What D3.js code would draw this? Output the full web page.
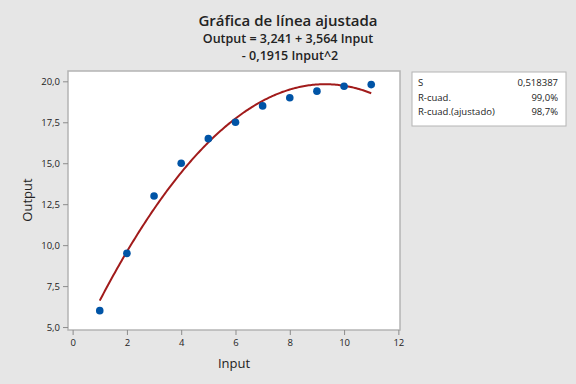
<!DOCTYPE html>
<html><head><meta charset="utf-8">
<script src="https://cdn.jsdelivr.net/npm/d3@7"></script>
<style>body{margin:0;background:#e6e6e6;} svg{display:block;font-family:"Open Sans","Noto Sans",sans-serif;}</style>
</head><body>
<script>
const inputs = [1,2,3,4,5,6,7,8,9,10,11];
const outputs = [6.0,9.5,13.0,15.0,16.5,17.5,18.5,19.0,19.4,19.7,19.8];
const coef = [3.241, 3.564, -0.1915];
const xTicks = [0,2,4,6,8,10,12];
const yTicks = [5,7.5,10,12.5,15,17.5,20];
const statLabels = ["S","R-cuad.","R-cuad.(ajustado)"];
const statValues = ["0,518387","99,0%","98,7%"];
const titleLines = ["Gráfica de línea ajustada","Output = 3,241 + 3,564 Input","- 0,1915 Input^2"];

const W=576,H=384;
const L=68,R=400,T=71,B=330;
const svg=d3.select("body").append("svg").attr("width",W).attr("height",H);
svg.append("rect").attr("width",W).attr("height",H).attr("fill","#e6e6e6");
const x=d3.scaleLinear().domain([-0.17,12.06]).range([L,R]);
const y=d3.scaleLinear().domain([4.82,20.63]).range([B,T]);
svg.append("rect").attr("x",L).attr("y",T).attr("width",R-L).attr("height",B-T).attr("fill","#fff").attr("stroke","#b4b4b4").attr("stroke-width",1.5);
const fmt=d=>d3.format(".1f")(d).replace(".",",");
const gx=svg.append("g").attr("transform",`translate(0,${B})`).call(d3.axisBottom(x).tickValues(xTicks).tickSize(5).tickPadding(4).tickFormat(d=>d));
const gy=svg.append("g").attr("transform",`translate(${L},0)`).call(d3.axisLeft(y).tickValues(yTicks).tickSize(5).tickPadding(3).tickFormat(fmt));
[gx,gy].forEach(g=>{g.select(".domain").remove();g.selectAll(".tick line").attr("stroke","#8c8c8c");g.selectAll("text").attr("font-size",9.5).attr("fill","#222").attr("font-family","'Open Sans','Noto Sans',sans-serif");});
const f=t=>coef[0]+coef[1]*t+coef[2]*t*t;
const curve=d3.range(0,201).map(i=>{const t=inputs[0]+(inputs[inputs.length-1]-inputs[0])*i/200;return [t,f(t)];});
svg.append("path").datum(curve).attr("fill","none").attr("stroke","#a11b1b").attr("stroke-width",2)
 .attr("d",d3.line().x(d=>x(d[0])).y(d=>y(d[1])));
svg.selectAll("circle.pt").data(inputs).join("circle").attr("class","pt")
 .attr("cx",d=>x(d)).attr("cy",(d,i)=>y(outputs[i])).attr("r",3.8).attr("fill","#0054a6");
svg.append("text").attr("x",288).attr("y",26).attr("text-anchor","middle").attr("font-size",15).attr("font-weight",600).attr("fill","#222").text(titleLines[0]);
svg.append("text").attr("x",288).attr("y",43).attr("text-anchor","middle").attr("font-size",12.5).attr("font-weight",600).attr("fill","#222").text(titleLines[1]);
svg.append("text").attr("x",290).attr("y",60).attr("text-anchor","middle").attr("font-size",12.5).attr("font-weight",600).attr("fill","#222").text(titleLines[2]);
svg.append("text").attr("x",234).attr("y",368).attr("text-anchor","middle").attr("font-size",13).attr("font-weight",500).attr("fill","#222").text("Input");
svg.append("text").attr("transform","translate(32,200) rotate(-90)").attr("text-anchor","middle").attr("font-size",13).attr("font-weight",500).attr("fill","#222").text("Output");
svg.append("rect").attr("x",412).attr("y",72).attr("width",154).attr("height",54).attr("fill","#fff").attr("stroke","#b4b4b4");
statLabels.forEach((s,i)=>{
 svg.append("text").attr("x",418).attr("y",86+i*14.5).attr("font-size",9.5).attr("fill","#222").text(s);
 svg.append("text").attr("x",558).attr("y",86+i*14.5).attr("text-anchor","end").attr("font-size",9.5).attr("fill","#222").text(statValues[i]);
});
</script>
</body></html>
